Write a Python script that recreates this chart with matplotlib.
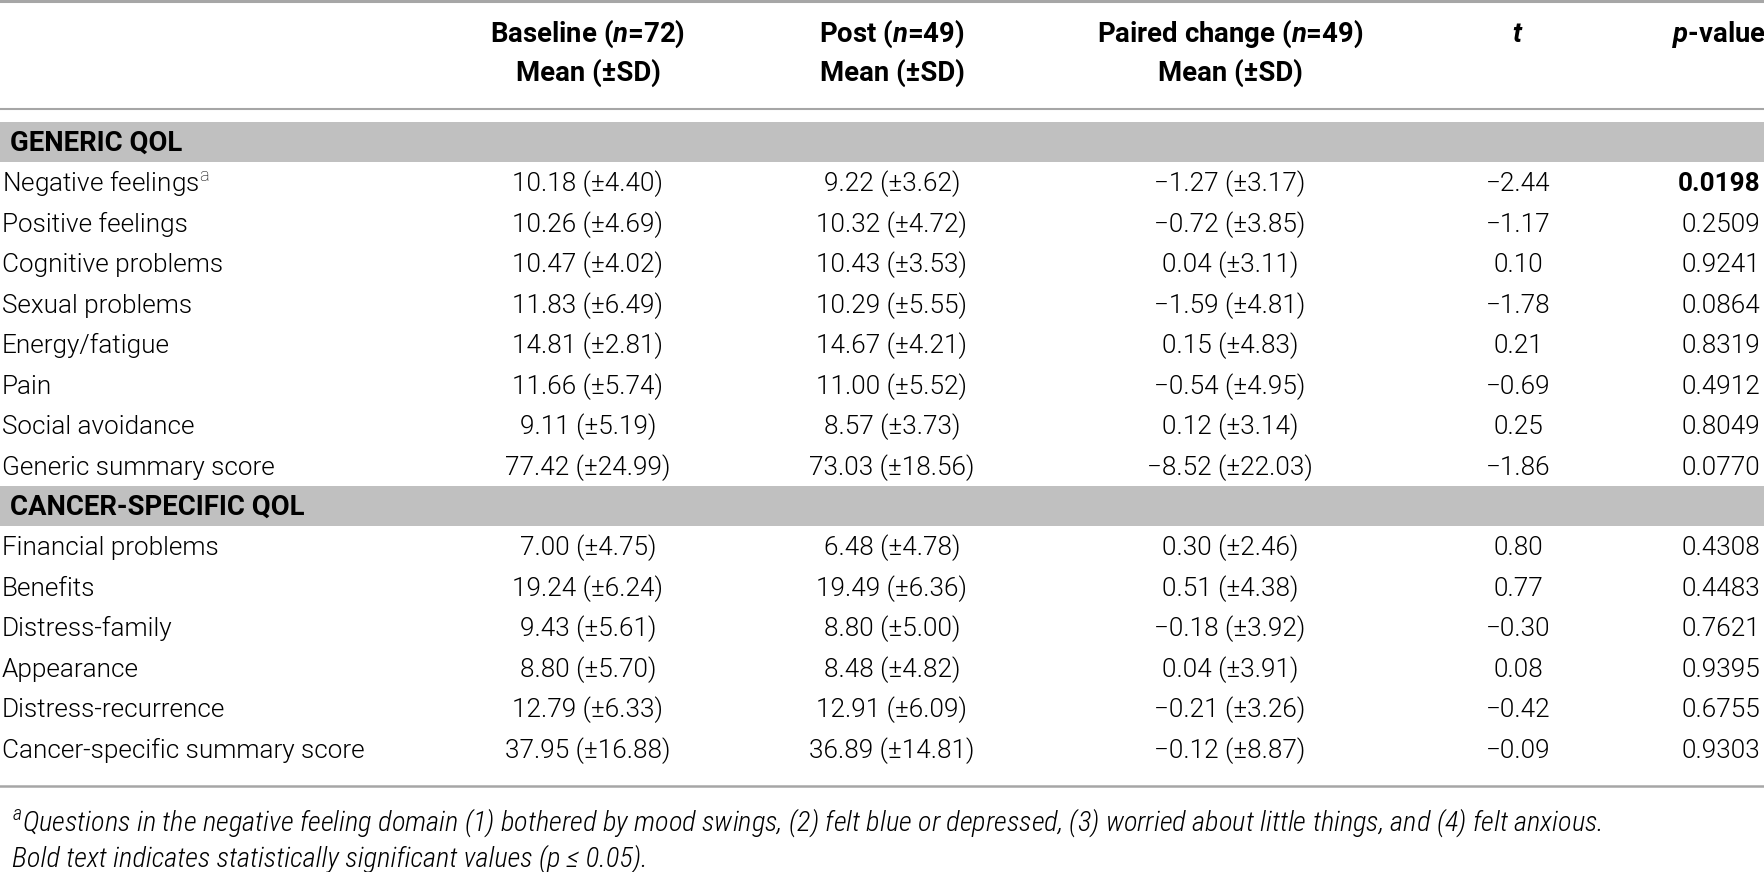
import matplotlib
matplotlib.use("Agg")
import matplotlib.pyplot as plt

plt.rcParams["font.family"] = ["Roboto", "DejaVu Sans"]
plt.rcParams["mathtext.fontset"] = "custom"
plt.rcParams["mathtext.rm"] = "Roboto:light"
plt.rcParams["mathtext.it"] = "Roboto Condensed:italic:light"
plt.rcParams["mathtext.bfit"] = "Roboto:italic:bold"

# column headers
col_head1 = [r"Baseline ($\mathbfit{n}$=72)", r"Post ($\mathbfit{n}$=49)",
             r"Paired change ($\mathbfit{n}$=49)", r"$\mathbfit{t}$", r"$\mathbfit{p}$-value"]
col_head2 = ["Mean (±SD)", "Mean (±SD)", "Mean (±SD)", "", ""]

sections = ["GENERIC QOL", "CANCER-SPECIFIC QOL"]

# generic QOL
gen_labels = ["Negative feelings$^{\\mathrm{a}}$", "Positive feelings", "Cognitive problems",
              "Sexual problems", "Energy/fatigue", "Pain", "Social avoidance",
              "Generic summary score"]
gen_base_mean = [10.18, 10.26, 10.47, 11.83, 14.81, 11.66, 9.11, 77.42]
gen_base_sd = [4.40, 4.69, 4.02, 6.49, 2.81, 5.74, 5.19, 24.99]
gen_post_mean = [9.22, 10.32, 10.43, 10.29, 14.67, 11.00, 8.57, 73.03]
gen_post_sd = [3.62, 4.72, 3.53, 5.55, 4.21, 5.52, 3.73, 18.56]
gen_chg_mean = [-1.27, -0.72, 0.04, -1.59, 0.15, -0.54, 0.12, -8.52]
gen_chg_sd = [3.17, 3.85, 3.11, 4.81, 4.83, 4.95, 3.14, 22.03]
gen_t = [-2.44, -1.17, 0.10, -1.78, 0.21, -0.69, 0.25, -1.86]
gen_p = [0.0198, 0.2509, 0.9241, 0.0864, 0.8319, 0.4912, 0.8049, 0.0770]

# cancer-specific QOL
can_labels = ["Financial problems", "Benefits", "Distress-family", "Appearance",
              "Distress-recurrence", "Cancer-specific summary score"]
can_base_mean = [7.00, 19.24, 9.43, 8.80, 12.79, 37.95]
can_base_sd = [4.75, 6.24, 5.61, 5.70, 6.33, 16.88]
can_post_mean = [6.48, 19.49, 8.80, 8.48, 12.91, 36.89]
can_post_sd = [4.78, 6.36, 5.00, 4.82, 6.09, 14.81]
can_chg_mean = [0.30, 0.51, -0.18, 0.04, -0.21, -0.12]
can_chg_sd = [2.46, 4.38, 3.92, 3.91, 3.26, 8.87]
can_t = [0.80, 0.77, -0.30, 0.08, -0.42, -0.09]
can_p = [0.4308, 0.4483, 0.7621, 0.9395, 0.6755, 0.9303]

footnotes = [
    "$^{a}$Questions in the negative feeling domain (1) bothered by mood swings, (2) felt blue "
    "or depressed, (3) worried about little things, and (4) felt anxious.",
    "Bold text indicates statistically significant values (p ≤ 0.05).",
]


def ms(mean, sd):
    return f"{mean:.2f} (±{sd:.2f})".replace("-", "\u2212")


def num(v):
    return f"{v:.2f}".replace("-", "\u2212")


W, H = 1765, 872
fig = plt.figure(figsize=(W / 100, H / 100), dpi=100)
ax = fig.add_axes([0, 0, 1, 1])
ax.set_xlim(0, W)
ax.set_ylim(H, 0)
ax.axis("off")

rule_col = "#a6a6a6"
band_col = "#c0c0c0"
fs = 18.8
fs_head = 19.8
cap = 9.0  # half cap height, px

col_x = [588, 892, 1230, 1518, 1760]
col_ha = ["center", "center", "center", "center", "right"]

# rules
ax.axhline(1.5, color=rule_col, lw=2.2)
ax.axhline(109, color=rule_col, lw=1.5)
ax.axhline(786, color=rule_col, lw=1.8)

# header
for x, ha, h1, h2 in zip(col_x, col_ha, col_head1, col_head2):
    hx = x + 6 if ha == "right" else x
    ax.text(hx, 33 + cap, h1, ha=ha, va="baseline", fontsize=fs_head, fontweight="bold")
    if h2:
        ax.text(x, 72 + cap, h2, ha=ha, va="baseline", fontsize=fs_head, fontweight="bold")

pitch = 40.5
band_h = 40
groups = [
    (gen_labels, gen_base_mean, gen_base_sd, gen_post_mean, gen_post_sd,
     gen_chg_mean, gen_chg_sd, gen_t, gen_p),
    (can_labels, can_base_mean, can_base_sd, can_post_mean, can_post_sd,
     can_chg_mean, can_chg_sd, can_t, can_p),
]

y = 122
for name, g in zip(sections, groups):
    ax.add_patch(plt.Rectangle((0, y), W, band_h, color=band_col, lw=0))
    ax.text(10, y + band_h / 2 + cap, name, ha="left", va="baseline",
            fontsize=fs_head, fontweight="bold")
    y += band_h
    labels, bm, bs, pm, psd, cm, cs, tv, pv = g
    for i in range(len(labels)):
        yc = y + pitch / 2 + cap
        ax.text(2, yc, labels[i], ha="left", va="baseline", fontsize=fs, fontweight=300)
        cells = [ms(bm[i], bs[i]), ms(pm[i], psd[i]), ms(cm[i], cs[i]), num(tv[i]),
                 f"{pv[i]:.4f}"]
        for j, (x, ha, c) in enumerate(zip(col_x, col_ha, cells)):
            bold = j == 4 and pv[i] <= 0.05
            ax.text(x, yc, c, ha=ha, va="baseline", fontsize=fs,
                    fontweight="bold" if bold else 300)
        y += pitch

# footnotes
for fy, note in zip([822, 858], footnotes):
    ax.text(12, fy + 8.5, note, ha="left", va="baseline", fontsize=20.5,
            family="Roboto Condensed", style="italic", fontweight=300)

fig.savefig("out.png", dpi=100)
